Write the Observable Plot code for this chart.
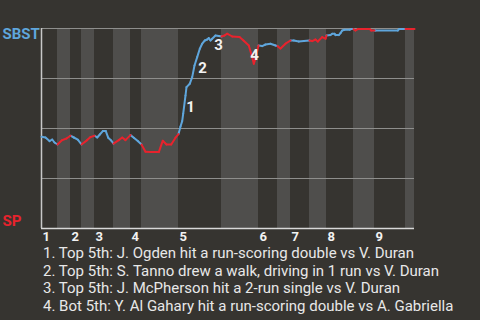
<!DOCTYPE html>
<html><head><meta charset="utf-8">
<script src="https://cdn.jsdelivr.net/npm/d3@7"></script>
<script src="https://cdn.jsdelivr.net/npm/@observablehq/plot@0.6"></script>
<style>
html,body{margin:0;padding:0;background:#363430;}
#chart svg{display:block;background:transparent;}
#caption{font-family:Roboto,sans-serif;font-size:15px;line-height:17.6px;color:#e8e8e8;padding-left:43px;padding-top:1px;white-space:nowrap;}
</style></head><body>
<div id="chart"></div><div id="caption"></div>
<script>
// half-inning start positions (event sequence), last value = end of game
const halfStarts = [0,16,29,40,53,72,89,100,137,180,217,236,249,268,285,312,333,364,373];
const innings = ["1","2","3","4","5","6","7","8","9"];
// event sequence and SBST win probability
const seq = [0,4,8,10.7,13,16,20.7,25,29,32.3,36.3,40,45.7,49,53,55.7,58.3,61.3,64.3,66.7,69.7,72,77.3,80.7,84,89,92.3,96.3,100,104,109,117.3,121.3,125,129.7,134,137,139,140.7,141.7,144,145,148.3,150.7,153,155.7,158.3,160.7,163.3,165.7,167.3,169,170.7,174,177.3,180,183,185.7,190.7,198,202,207.3,210.7,212.3,214,217,220.7,224,229,234,236,239,244,249,252.3,257.3,262.3,268,270.7,274,276.3,280.7,284,285,289,290.7,293,294,297.3,299,300.7,303,308.3,309.7,312,314,316.3,328.3,329.7,333,334,356.3,357.7,364,373];
const winProb = [.459,.455,.437,.445,.43,.42,.442,.45,.464,.455,.444,.42,.442,.457,.464,.455,.47,.487,.487,.454,.44,.424,.442,.455,.442,.467,.454,.437,.42,.384,.382,.382,.439,.42,.42,.454,.472,.51,.537,.574,.665,.707,.724,.757,.815,.857,.899,.924,.94,.945,.952,.94,.949,.965,.962,.96,.965,.974,.96,.957,.94,.915,.857,.824,.849,.915,.912,.92,.924,.915,.912,.90,.924,.94,.94,.935,.937,.94,.937,.945,.935,.957,.949,.965,.967,.974,.974,.967,.967,.977,.99,.994,.994,.997,.997,.99,.997,.997,.99,.99,.99,.99,.997,.997,.997];
const annoNum = ["1","2","3","4"];
const annoSeq = [149,161,177,213];
const annoProb = [.605,.80,.918,.868];
const teams = ["SBST","SP"];
const notes = [
  "1. Top 5th: J. Ogden hit a run-scoring double vs V. Duran",
  "2. Top 5th: S. Tanno drew a walk, driving in 1 run vs V. Duran",
  "3. Top 5th: J. McPherson hit a 2-run single vs V. Duran",
  "4. Bot 5th: Y. Al Gahary hit a run-scoring double vs A. Gabriella"
];

const BLUE = "#5fa6dc", RED = "#e8232d";

const halfOf = v => { let k = 0; for (let i = 0; i < halfStarts.length - 1; i++) if (v >= halfStarts[i]) k = i; return k; };
const segs = [];
for (let i = 0; i < seq.length - 1; i++) {
  const mid = (seq[i] + seq[i+1]) / 2;
  segs.push({x1: seq[i], y1: winProb[i], x2: seq[i+1], y2: winProb[i+1], top: halfOf(mid) % 2 === 0});
}
const bands = [];
for (let k = 1; k < halfStarts.length - 1; k += 2) bands.push({x1: halfStarts[k], x2: halfStarts[k+1]});
const annos = annoNum.map((n, i) => ({n, x: annoSeq[i], y: annoProb[i]}));

const chart = Plot.plot({
  width: 480, height: 244,
  marginTop: 28, marginBottom: 16, marginLeft: 41, marginRight: 66,
  x: {domain: [0, halfStarts[halfStarts.length-1]], axis: null},
  y: {domain: [0, 1], axis: null},
  style: {background: "transparent", fontFamily: "Roboto, sans-serif"},
  marks: [
    Plot.rect(bands, {x1: "x1", x2: "x2", y1: 0, y2: 1, fill: "#4f4e4c"}),
    Plot.ruleY([0.25, 0.5, 0.75, 1], {stroke: "#8e8e8c", strokeWidth: 1}),
    Plot.ruleY([0], {stroke: "#d8d8d8", strokeWidth: 1.5}),
    Plot.ruleX([0], {y1: 0, y2: 1, stroke: "#c8c8c8", strokeWidth: 1.5}),
    Plot.link(segs.filter(d => d.top), {x1: "x1", y1: "y1", x2: "x2", y2: "y2", stroke: BLUE, strokeWidth: 2, strokeLinecap: "round"}),
    Plot.link(segs.filter(d => !d.top), {x1: "x1", y1: "y1", x2: "x2", y2: "y2", stroke: RED, strokeWidth: 2, strokeLinecap: "round"}),
    Plot.text(annos, {x: "x", y: "y", text: "n", fill: "#f2f2f2", fontWeight: "bold", fontSize: 15, textAnchor: "middle", lineAnchor: "middle"}),
    Plot.text(innings, {x: (d, i) => halfStarts[2*i], frameAnchor: "bottom", text: d => d, dy: 8, dx: 1, textAnchor: "start", lineAnchor: "middle", fill: "#f2f2f2", fontWeight: "bold", fontSize: 13}),
    Plot.text([teams[0]], {frameAnchor: "top-left", text: d => d, dx: -39, textAnchor: "start", lineAnchor: "top", fill: BLUE, fontWeight: "bold", fontSize: 15}),
    Plot.text([teams[1]], {frameAnchor: "bottom-left", text: d => d, dx: -39, dy: -3, textAnchor: "start", lineAnchor: "bottom", fill: RED, fontWeight: "bold", fontSize: 15})
  ]
});
document.getElementById("chart").appendChild(chart);
const cap = document.getElementById("caption");
notes.forEach(t => { const d = document.createElement("div"); d.textContent = t; cap.appendChild(d); });
</script>
</body></html>
